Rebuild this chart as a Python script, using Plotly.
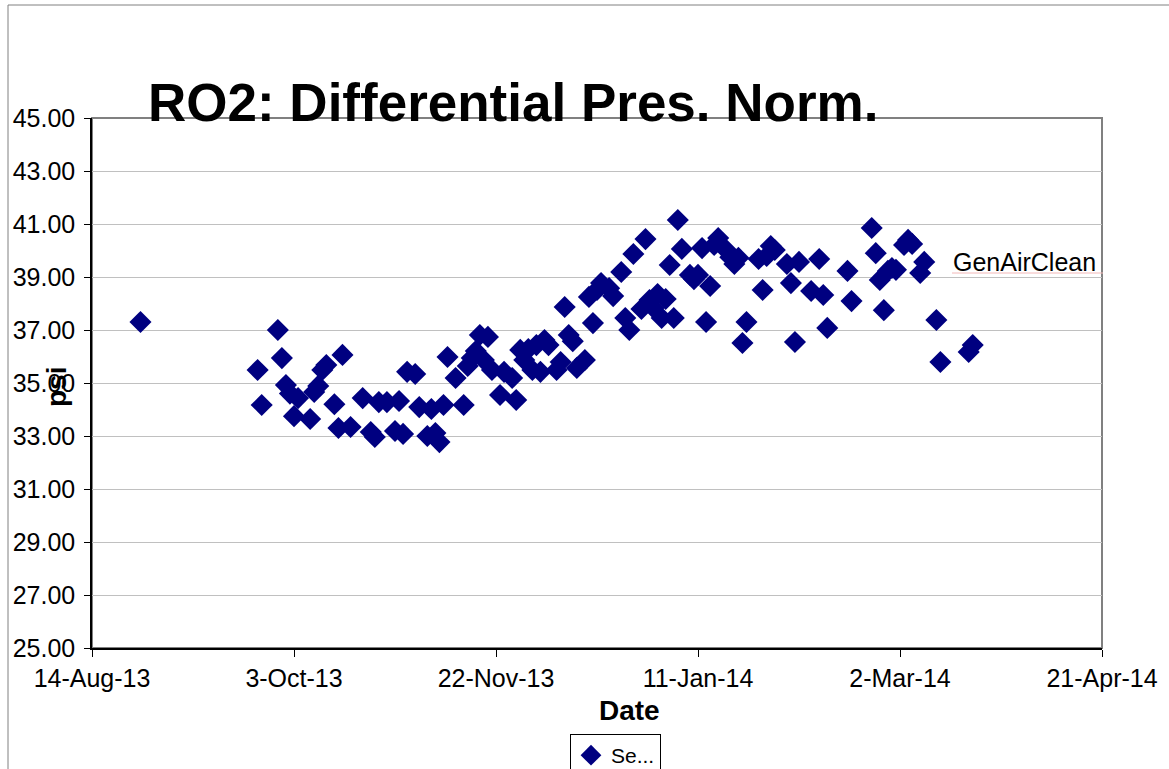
import plotly.graph_objects as go

# ---- data ----
dates = [
    "2013-08-26", "2013-09-24", "2013-09-25", "2013-09-29", "2013-09-30", "2013-10-01",
    "2013-10-02", "2013-10-03", "2013-10-04", "2013-10-07", "2013-10-08", "2013-10-09",
    "2013-10-10", "2013-10-11", "2013-10-13", "2013-10-14", "2013-10-15", "2013-10-17",
    "2013-10-20", "2013-10-22", "2013-10-23", "2013-10-24", "2013-10-26", "2013-10-28",
    "2013-10-29", "2013-10-30", "2013-10-31", "2013-11-02", "2013-11-03", "2013-11-05",
    "2013-11-06", "2013-11-07", "2013-11-08", "2013-11-09", "2013-11-10", "2013-11-12",
    "2013-11-14", "2013-11-15", "2013-11-16", "2013-11-17", "2013-11-18", "2013-11-19",
    "2013-11-20", "2013-11-21", "2013-11-23", "2013-11-24", "2013-11-26", "2013-11-27",
    "2013-11-28", "2013-11-29", "2013-11-30", "2013-12-01", "2013-12-02", "2013-12-03",
    "2013-12-04", "2013-12-05", "2013-12-07", "2013-12-08", "2013-12-09", "2013-12-10",
    "2013-12-11", "2013-12-12", "2013-12-14", "2013-12-15", "2013-12-16", "2013-12-17",
    "2013-12-18", "2013-12-20", "2013-12-21", "2013-12-23", "2013-12-24", "2013-12-25",
    "2013-12-26", "2013-12-28", "2013-12-29", "2013-12-30", "2013-12-31", "2014-01-01",
    "2014-01-02", "2014-01-03", "2014-01-04", "2014-01-05", "2014-01-06", "2014-01-07",
    "2014-01-09", "2014-01-10", "2014-01-11", "2014-01-12", "2014-01-13", "2014-01-14",
    "2014-01-15", "2014-01-16", "2014-01-18", "2014-01-19", "2014-01-20", "2014-01-21",
    "2014-01-22", "2014-01-23", "2014-01-26", "2014-01-27", "2014-01-28", "2014-01-29",
    "2014-01-30", "2014-02-02", "2014-02-03", "2014-02-04", "2014-02-05", "2014-02-08",
    "2014-02-10", "2014-02-11", "2014-02-12", "2014-02-17", "2014-02-18", "2014-02-23",
    "2014-02-24", "2014-02-25", "2014-02-26", "2014-02-27", "2014-02-28", "2014-03-01",
    "2014-03-03", "2014-03-04", "2014-03-05", "2014-03-07", "2014-03-08", "2014-03-11",
    "2014-03-12", "2014-03-19", "2014-03-20",
]
psi = [
    37.30, 35.49, 34.17, 37.00, 35.94, 34.92,
    34.60, 33.75, 34.43, 33.64, 34.66, 34.89,
    35.49, 35.68, 34.20, 33.30, 36.06, 33.34,
    34.43, 33.15, 32.96, 34.28, 34.28, 33.19,
    34.32, 33.08, 35.42, 35.34, 34.09, 33.00,
    34.02, 33.11, 32.77, 34.17, 35.98, 35.19,
    34.17, 35.64, 35.94, 36.21, 36.81, 35.87,
    36.74, 35.49, 34.55, 35.42, 35.19, 34.36,
    36.25, 35.87, 36.28, 35.49, 36.43, 35.42,
    36.62, 36.43, 35.49, 35.79, 37.87, 36.81,
    36.58, 35.57, 35.87, 38.25, 37.26, 38.51,
    38.77, 38.58, 38.28, 39.19, 37.45, 37.00,
    39.87, 37.79, 40.43, 38.13, 37.83, 38.36,
    37.45, 38.17, 39.45, 37.45, 41.15, 40.06,
    39.08, 38.92, 39.08, 40.09, 37.30, 38.66,
    40.21, 40.47, 40.02, 39.75, 39.49, 39.72,
    36.51, 37.30, 39.68, 38.51, 39.79, 40.17,
    40.02, 39.49, 38.77, 36.55, 39.57, 38.47,
    39.68, 38.32, 37.08, 39.23, 38.09, 40.85,
    39.90, 38.89, 37.75, 39.23, 39.34, 39.27,
    40.21, 40.40, 40.25, 39.15, 39.57, 37.38,
    35.79, 36.17, 36.43,
]
x_tick_vals = ["2013-08-14", "2013-10-03", "2013-11-22", "2014-01-11", "2014-03-02", "2014-04-21"]
x_tick_text = ["14-Aug-13", "3-Oct-13", "22-Nov-13", "11-Jan-14", "2-Mar-14", "21-Apr-14"]
y_tick_vals = [25, 27, 29, 31, 33, 35, 37, 39, 41, 43, 45]
y_tick_text = ["25.00", "27.00", "29.00", "31.00", "33.00", "35.00", "37.00", "39.00", "41.00", "43.00", "45.00"]

FONT = "Liberation Sans, Arial, sans-serif"

fig = go.Figure()
fig.add_trace(go.Scatter(
    x=dates, y=psi, mode="markers", name="Se...",
    marker=dict(symbol="diamond", size=17, color="#000080", line=dict(width=0)),
))

W, H = 1169, 769
L, R, T, B = 92, 67, 118, 121
pw, ph = W - L - R, H - T - B

def px(x):
    return (x - L) / pw

def py(y):
    return (H - B - y) / ph

fig.update_layout(
    width=W, height=H, autosize=False,
    margin=dict(l=L, r=R, t=T, b=B, pad=0, autoexpand=False),
    paper_bgcolor="white", plot_bgcolor="white",
    font=dict(family=FONT, color="black", size=25),
    showlegend=True,
    legend=dict(
        x=px(570), y=py(734), xanchor="left", yanchor="top",
        bordercolor="#000000", borderwidth=1, bgcolor="white",
        font=dict(size=21, family=FONT), itemwidth=30,
        tracegroupgap=0,
    ),
    xaxis=dict(
        type="date", range=["2013-08-14", "2014-04-21"],
        tickmode="array", tickvals=x_tick_vals, ticktext=x_tick_text,
        ticks="outside", ticklen=7, tickcolor="black",
        showline=True, linecolor="black", linewidth=1.5,
        showgrid=False, zeroline=False, automargin=False,
        tickfont=dict(size=25, family=FONT),
    ),
    yaxis=dict(
        range=[25, 45], tickmode="array", tickvals=y_tick_vals, ticktext=y_tick_text,
        ticks="outside", ticklen=6, tickcolor="black",
        showline=True, linecolor="black", linewidth=1.5,
        showgrid=True, gridcolor="#c0c0c0", gridwidth=1.2,
        zeroline=False, ticklabelstandoff=4, automargin=False,
        tickfont=dict(size=25, family=FONT),
    ),
)

# plot-area frame (gray top/right) and outer chart border
fig.add_shape(type="rect", xref="paper", yref="paper", x0=0, x1=1, y0=0, y1=1,
              line=dict(color="#808080", width=2), layer="between")
fig.add_shape(type="rect", xref="paper", yref="paper",
              x0=px(8), x1=px(1185), y0=py(785), y1=py(5),
              line=dict(color="#808080", width=1), layer="below")
# faint underline under the label
fig.add_shape(type="line", xref="paper", yref="paper",
              x0=px(952), x1=px(1103), y0=py(273), y1=py(273),
              line=dict(color="#f2b8b8", width=1))

# title
fig.add_annotation(text="<b>RO2: Differential Pres. Norm.</b>", xref="paper", yref="paper",
                   x=px(146), y=py(103), xanchor="left", yanchor="middle", showarrow=False,
                   font=dict(size=53, family=FONT, color="black"))
# axis titles
fig.add_annotation(text="<b>Date</b>", xref="paper", yref="paper",
                   x=px(629), y=py(710), xanchor="center", yanchor="middle", showarrow=False,
                   font=dict(size=28, family=FONT, color="black"))
fig.add_annotation(text="<b>psi</b>", xref="paper", yref="paper",
                   x=px(56), y=py(387), xanchor="center", yanchor="middle", showarrow=False,
                   textangle=-90, font=dict(size=28, family=FONT, color="black"))
# free text label
fig.add_annotation(text="GenAirClean", xref="paper", yref="paper",
                   x=px(951), y=py(262), xanchor="left", yanchor="middle", showarrow=False,
                   font=dict(size=25, family=FONT, color="black"))

fig.write_html("out.html", config={"displayModeBar": False},
               post_script="document.body.style.margin='0';document.body.style.overflow='hidden';")
